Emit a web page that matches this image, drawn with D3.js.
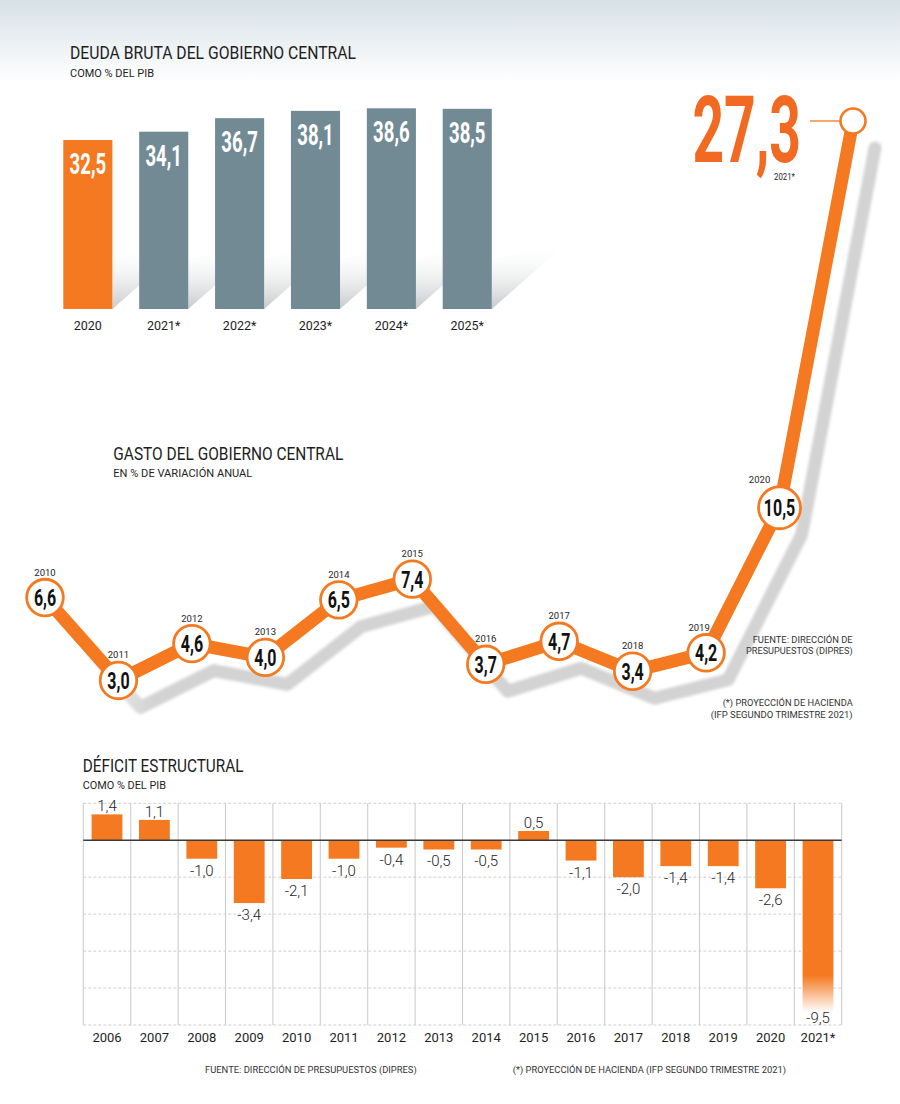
<!DOCTYPE html>
<html>
<head>
<meta charset="utf-8">
<script src="https://cdn.jsdelivr.net/npm/d3@7"></script>
<style>
  html, body { margin: 0; padding: 0; background: #ffffff; }
  svg { display: block; font-family: Roboto, "Open Sans", sans-serif; }
</style>
</head>
<body>
<script>
// ---------------- DATA ----------------
const debtYears = ["2020", "2021*", "2022*", "2023*", "2024*", "2025*"];
const debtValues = [32.5, 34.1, 36.7, 38.1, 38.6, 38.5];

const spendYears = ["2010", "2011", "2012", "2013", "2014", "2015", "2016", "2017", "2018", "2019", "2020", "2021*"];
const spendValues = [6.6, 3.0, 4.6, 4.0, 6.5, 7.4, 3.7, 4.7, 3.4, 4.2, 10.5, 27.3];

const deficitYears = ["2006", "2007", "2008", "2009", "2010", "2011", "2012", "2013", "2014", "2015", "2016", "2017", "2018", "2019", "2020", "2021*"];
const deficitValues = [1.4, 1.1, -1.0, -3.4, -2.1, -1.0, -0.4, -0.5, -0.5, 0.5, -1.1, -2.0, -1.4, -1.4, -2.6, -9.5];
const deficitTicks = [2, 0, -2, -4, -6, -8, -10];

// ---------------- STYLE ----------------
const ORANGE = "#f47920";
const ORANGE_BIG = "#f26a21";
const GREY_BAR = "#728a94";
const TEXT = "#1e1e1e";
const fmt = v => v.toFixed(1).replace(".", ",");

const svg = d3.select("body").append("svg")
  .attr("width", 900).attr("height", 1104);

const defs = svg.append("defs");

const hg = defs.append("linearGradient").attr("id", "hdr").attr("x1", 0).attr("x2", 0).attr("y1", 0).attr("y2", 1);
hg.append("stop").attr("offset", "0").attr("stop-color", "#d6e1e6");
hg.append("stop").attr("offset", "1").attr("stop-color", "#ffffff");

const sg = defs.append("linearGradient").attr("id", "barShadow").attr("gradientUnits", "userSpaceOnUse")
  .attr("x1", 0).attr("x2", 0).attr("y1", 243).attr("y2", 309);
sg.append("stop").attr("offset", "0").attr("stop-color", "#ffffff").attr("stop-opacity", 0);
sg.append("stop").attr("offset", "1").attr("stop-color", "#c6c9ca");

const lg = defs.append("linearGradient").attr("id", "lineShadow").attr("gradientUnits", "userSpaceOnUse")
  .attr("x1", 40).attr("x2", 130).attr("y1", 0).attr("y2", 0);
lg.append("stop").attr("offset", "0").attr("stop-color", "#ffffff");
lg.append("stop").attr("offset", "1").attr("stop-color", "#d3d3d3");

defs.append("filter").attr("id", "blur").attr("x", "-10%").attr("y", "-10%").attr("width", "120%").attr("height", "120%")
  .append("feGaussianBlur").attr("stdDeviation", 1.6);

const fg = defs.append("linearGradient").attr("id", "fadeBar").attr("x1", 0).attr("x2", 0).attr("y1", 0).attr("y2", 1);
fg.append("stop").attr("offset", "0").attr("stop-color", ORANGE);
fg.append("stop").attr("offset", "0.77").attr("stop-color", ORANGE);
fg.append("stop").attr("offset", "0.98").attr("stop-color", "#ffffff");

// header band
svg.append("rect").attr("x", 0).attr("y", 0).attr("width", 900).attr("height", 82).attr("fill", "url(#hdr)");

function condensed(g, x, y, txt, size, sx, fill, anchor) {
  return g.append("text")
    .attr("transform", `translate(${x},${y}) scale(${sx},1)`)
    .attr("text-anchor", anchor || "middle")
    .attr("font-weight", 700)
    .attr("font-size", size)
    .attr("fill", fill)
    .text(txt);
}
function label(g, x, y, txt, size, opts) {
  opts = opts || {};
  const t = g.append("text").attr("x", x).attr("y", y)
    .attr("font-size", size).attr("fill", opts.fill || TEXT)
    .attr("text-anchor", opts.anchor || "start")
    .attr("font-weight", opts.weight || 400)
    .text(txt);
  if (opts.len) t.attr("textLength", opts.len).attr("lengthAdjust", "spacingAndGlyphs");
  if (opts.ls) t.attr("letter-spacing", opts.ls);
  return t;
}

// ================= DEUDA BRUTA =================
const gD = svg.append("g");
label(gD, 70, 59.3, "DEUDA BRUTA DEL GOBIERNO CENTRAL", 18, { len: 286 });
label(gD, 70, 77.3, "COMO % DEL PIB", 11.5, { len: 84 });

const xD = d3.scaleBand().domain(debtYears).range([63.3, 491.8]).paddingInner(0.353).paddingOuter(0);
const yD = d3.scaleLinear().domain([0, 40]).range([309, 101]);

gD.selectAll("polygon.sh").data(debtYears).join("polygon")
  .attr("points", d => {
    const r = xD(d) + xD.bandwidth(), b = yD(0);
    return `${r},${b} ${r},${b - 50} ${r + 75},${b - 66}`;
  })
  .attr("fill", "url(#barShadow)");

gD.selectAll("rect.bar").data(debtYears).join("rect")
  .attr("x", d => xD(d)).attr("width", xD.bandwidth())
  .attr("y", (d, i) => yD(debtValues[i]))
  .attr("height", (d, i) => yD(0) - yD(debtValues[i]))
  .attr("fill", (d, i) => i === 0 ? ORANGE : GREY_BAR);

debtYears.forEach((d, i) => {
  condensed(gD, xD(d) + xD.bandwidth() / 2, yD(debtValues[i]) + 34, fmt(debtValues[i]), 29, 0.64, "#ffffff");
  label(gD, xD(d) + xD.bandwidth() / 2, yD(0) + 20.5, d, 12.5, { anchor: "middle" });
});

// ================= GASTO =================
const gS = svg.append("g");
label(gS, 113.3, 460, "GASTO DEL GOBIERNO CENTRAL", 18, { len: 230 });
label(gS, 113.3, 476.7, "EN % DE VARIACIÓN ANUAL", 11.5, { len: 139 });

const xS = d3.scalePoint().domain(spendYears).range([45, 853]);
const yS = d3.scaleLinear().domain([0, 27.3]).range([749.5, 121]);
const pts = spendYears.map((d, i) => [xS(d), yS(spendValues[i])]);
const line = d3.line();

gS.append("path").attr("d", line(pts))
  .attr("transform", "translate(22,27)")
  .attr("fill", "none").attr("stroke", "url(#lineShadow)")
  .attr("stroke-width", 13).attr("stroke-linecap", "round").attr("stroke-linejoin", "round")
  .attr("filter", "url(#blur)");

gS.append("path").attr("d", line(pts))
  .attr("fill", "none").attr("stroke", ORANGE)
  .attr("stroke-width", 13).attr("stroke-linejoin", "miter");

const yearDx = { "2019": -7, "2020": -20 };
const last = spendYears.length - 1;
spendYears.forEach((d, i) => {
  const [cx, cy] = pts[i];
  if (i === last) {
    gS.append("line").attr("x1", cx - 43).attr("x2", cx - 13).attr("y1", cy).attr("y2", cy)
      .attr("stroke", ORANGE).attr("stroke-width", 1.3);
    gS.append("circle").attr("cx", cx).attr("cy", cy).attr("r", 12.5)
      .attr("fill", "#fff").attr("stroke", ORANGE).attr("stroke-width", 2.6);
    condensed(gS, cx - 52, cy + 41, fmt(spendValues[i]), 92, 0.6, ORANGE_BIG, "end");
    label(gS, cx - 58, cy + 59, d, 9.5, { anchor: "end", len: 21 });
    return;
  }
  const txt = fmt(spendValues[i]);
  const r = txt.length > 3 ? 21 : 18.3;
  gS.append("circle").attr("cx", cx).attr("cy", cy).attr("r", r)
    .attr("fill", "#fff").attr("stroke", ORANGE).attr("stroke-width", 2.8);
  condensed(gS, cx, cy + 8.5, txt, 23.5, 0.68, "#111111");
  label(gS, cx + (yearDx[d] || 0), cy - (r > 19 ? 25 : 22), d, 9.5, { anchor: "middle" });
});

// notes
label(gS, 852.7, 643.3, "FUENTE: DIRECCIÓN DE", 9.5, { anchor: "end", len: 100, fill: "#333" });
label(gS, 852.7, 654.3, "PRESUPUESTOS (DIPRES)", 9.5, { anchor: "end", len: 106.7, fill: "#333" });
label(gS, 852.7, 706, "(*) PROYECCIÓN DE HACIENDA", 9.5, { anchor: "end", len: 130, fill: "#333" });
label(gS, 852.7, 717.7, "(IFP SEGUNDO TRIMESTRE 2021)", 9.5, { anchor: "end", len: 142, fill: "#333" });

// ================= DÉFICIT =================
const gF = svg.append("g");
label(gF, 82.7, 772, "DÉFICIT ESTRUCTURAL", 18, { len: 160.7 });
label(gF, 82.7, 789.3, "COMO % DEL PIB", 11.5, { len: 83.3 });

const xF = d3.scaleBand().domain(deficitYears).range([83.3, 841.7]).paddingInner(0.35).paddingOuter(0.175);
const yF = d3.scaleLinear().domain([-10, 2]).range([1025, 803.3]);
const x0 = xF.range()[0], x1 = xF.range()[1];

gF.selectAll("line.h").data(deficitTicks.filter(t => t !== 0)).join("line")
  .attr("x1", x0).attr("x2", x1).attr("y1", d => yF(d)).attr("y2", d => yF(d))
  .attr("stroke", "#c4c4c4").attr("stroke-width", 0.8).attr("stroke-dasharray", "3,2");

gF.selectAll("line.v").data(d3.range(deficitYears.length + 1)).join("line")
  .attr("x1", i => x0 + i * xF.step()).attr("x2", i => x0 + i * xF.step())
  .attr("y1", yF(2)).attr("y2", yF(-10))
  .attr("stroke", "#cdcdcd").attr("stroke-width", 1.1);

gF.selectAll("rect.bar").data(deficitYears).join("rect")
  .attr("x", d => xF(d)).attr("width", xF.bandwidth())
  .attr("y", (d, i) => yF(Math.max(0, deficitValues[i])))
  .attr("height", (d, i) => Math.abs(yF(deficitValues[i]) - yF(0)))
  .attr("fill", d => d.endsWith("*") ? "url(#fadeBar)" : ORANGE);

gF.append("line").attr("x1", x0).attr("x2", x1).attr("y1", yF(0)).attr("y2", yF(0))
  .attr("stroke", "#3a3a3a").attr("stroke-width", 1.4);

deficitYears.forEach((d, i) => {
  const v = deficitValues[i];
  const cx = xF(d) + xF.bandwidth() / 2;
  const y = v >= 0 ? yF(v) - 3 : Math.min(yF(v) + 17, yF(-10) - 2);
  label(gF, cx, y, fmt(v), 15, { anchor: "middle", weight: 300 });
  label(gF, x0 + (i + 0.5) * xF.step(), 1041.7, d, 13, { anchor: "middle" });
});

label(gF, 205, 1072.7, "FUENTE: DIRECCIÓN DE PRESUPUESTOS (DIPRES)", 9, { len: 211.7, fill: "#333" });
label(gF, 512.7, 1073.3, "(*) PROYECCIÓN DE HACIENDA (IFP SEGUNDO TRIMESTRE 2021)", 9, { len: 273.3, fill: "#333" });
</script>
</body>
</html>
